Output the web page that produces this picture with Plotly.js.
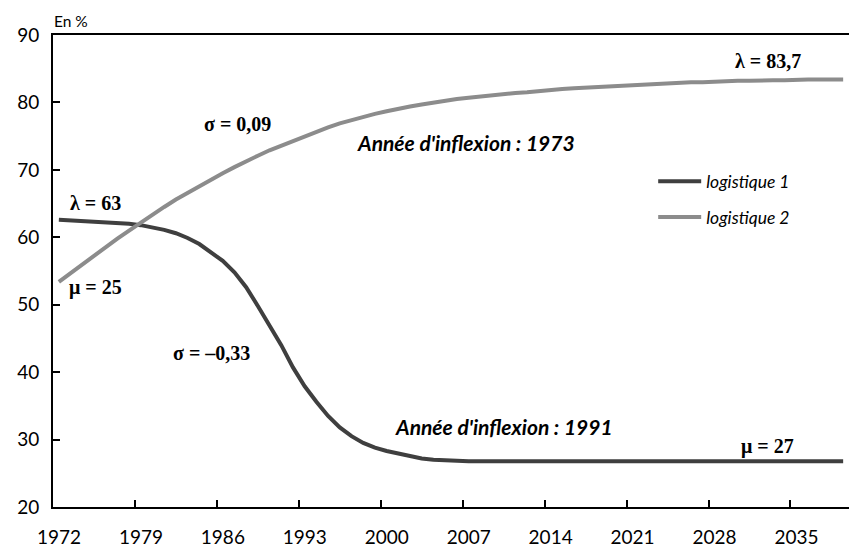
<!DOCTYPE html>
<html>
<head>
<meta charset="utf-8">
<script src="https://cdn.plot.ly/plotly-3.0.1.min.js"></script>
<style>html,body{margin:0;padding:0;background:#fff;}#chart{width:849px;height:549px;}</style>
</head>
<body>
<div id="chart"></div>
<script>
// Years
var years = [];
for (var yr = 1972; yr <= 2039; yr++) years.push(yr);

// Tick labels shown on the x axis
var xTickLabels = ['1972', '1979', '1986', '1993', '2000', '2007', '2014', '2021', '2028', '2035'];

// logistique 1 (1972..2039)
var logistique1 = [
  62.6, 62.5, 62.5, 62.4, 62.3, 62.2, 62.0, 61.8, 61.5, 61.1,
  60.6, 59.9, 59.0, 57.8, 56.5, 54.8, 52.6, 49.8, 46.9, 44.0,
  40.7, 37.9, 35.6, 33.5, 31.8, 30.5, 29.5, 28.8, 28.3, 27.9,
  27.5, 27.2, 27.0, 26.9, 26.8, 26.8, 26.8, 26.8, 26.8, 26.8,
  26.8, 26.8, 26.8, 26.8, 26.8, 26.8, 26.8, 26.8, 26.8, 26.8,
  26.8, 26.8, 26.8, 26.8, 26.8, 26.8, 26.8, 26.8, 26.8, 26.8,
  26.8, 26.8, 26.8, 26.8, 26.8, 26.8, 26.8, 26.8
];

// logistique 2 (1972..2039)
var logistique2 = [
  53.4, 54.7, 56.0, 57.3, 58.6, 59.8, 61.0, 62.2, 63.4, 64.5,
  65.6, 66.6, 67.6, 68.6, 69.5, 70.4, 71.3, 72.1, 72.9, 73.6,
  74.3, 75.0, 75.7, 76.3, 76.9, 77.4, 77.9, 78.3, 78.7, 79.1,
  79.4, 79.7, 80.0, 80.2, 80.5, 80.7, 80.9, 81.1, 81.3, 81.4,
  81.5, 81.7, 81.8, 82.0, 82.1, 82.2, 82.3, 82.4, 82.5, 82.6,
  82.7, 82.8, 82.9, 82.9, 83.0, 83.0, 83.1, 83.1, 83.2, 83.2,
  83.3, 83.3, 83.3, 83.4, 83.4, 83.4, 83.4, 83.4
];

var seriesNames = ['logistique 1', 'logistique 2'];

var traces = [
  {x: years, y: logistique1, type: 'scatter', mode: 'lines', name: seriesNames[0],
   legendgroup: 'a', line: {color: '#3f3f3f', width: 4}},
  {x: years, y: logistique2, type: 'scatter', mode: 'lines', name: seriesNames[1],
   legendgroup: 'b', line: {color: '#8c8c8c', width: 4}}
];

// Excel-style category axis: ticks sit on the boundary before each labelled year
var tickPositions = xTickLabels.map(function (t) { return Number(t) - 0.5; });

var serif = {family: 'Liberation Serif, Times New Roman, serif', size: 20, color: '#000', weight: 'bold'};
var sansBI = {family: 'Lato, Open Sans, sans-serif', size: 21, color: '#000', weight: 'bold', style: 'italic'};

function ann(text, x, y, font) {
  return {text: text, x: x, y: y, xref: 'paper', yref: 'paper', showarrow: false,
          xanchor: 'center', yanchor: 'middle', font: font};
}

var layout = {
  width: 849, height: 549,
  margin: {l: 53, r: 0, t: 35, b: 42},
  paper_bgcolor: '#fff', plot_bgcolor: '#fff',
  font: {family: 'Lato, Open Sans, sans-serif', color: '#000'},
  xaxis: {
    type: 'linear', tickmode: 'array', tickvals: tickPositions, ticktext: xTickLabels,
    tickangle: 0, ticklabelshift: 6,
    ticks: 'inside', ticklen: 7, tickwidth: 2, tickcolor: '#000',
    showline: true, linecolor: '#000', linewidth: 2, mirror: true,
    showgrid: false, zeroline: false, range: [1971.5, 2039.5], automargin: false,
    tickfont: {size: 19, color: '#000'}, ticklabelstandoff: 12
  },
  yaxis: {
    range: [20, 90], dtick: 10, tick0: 20, ticks: 'inside', ticklen: 7, tickwidth: 2,
    tickcolor: '#000', showline: true, linecolor: '#000', linewidth: 2,
    showgrid: false, zeroline: false, tickfont: {size: 19, color: '#000'},
    ticklabelstandoff: 8
  },
  showlegend: true,
  legend: {x: 0.754, y: 0.728, xanchor: 'left', yanchor: 'top', traceorder: 'grouped',
           tracegroupgap: 10, itemwidth: 43, bgcolor: 'rgba(0,0,0,0)',
           font: {family: 'Lato, Open Sans, sans-serif', size: 17.5, color: '#000', style: 'italic'}},
  annotations: [
    ann('λ = 63', 0.0528, 0.644, serif),
    ann('μ = 25', 0.0528, 0.466, serif),
    ann('σ = 0,09', 0.2324, 0.811, serif),
    ann('Année d\'inflexion : 1973', 0.5188, 0.773, sansBI),
    ann('λ = 83,7', 0.898, 0.945, serif),
    ann('σ = –0,33', 0.1985, 0.326, serif),
    ann('Année d\'inflexion : 1991', 0.5666, 0.1716, sansBI),
    ann('μ = 27', 0.898, 0.129, serif),
    {text: 'En %', x: 0.0226, y: 1.0297, xref: 'paper', yref: 'paper', showarrow: false,
     xanchor: 'center', yanchor: 'middle', font: {family: 'Lato, Open Sans, sans-serif', size: 15.5, color: '#000'}}
  ]
};

Plotly.newPlot('chart', traces, layout, {displayModeBar: false, staticPlot: true});
</script>
</body>
</html>
